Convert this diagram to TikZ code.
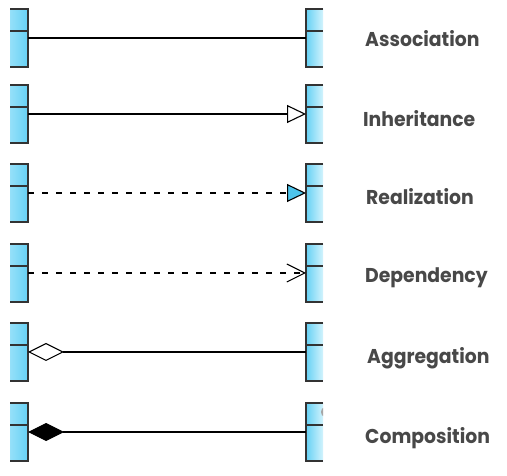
\documentclass[tikz,border=0pt]{standalone}
\usepackage{fontspec}
\setmainfont{Poppins}
\usetikzlibrary{arrows.meta}
\definecolor{lboxA}{HTML}{95E0F9}
\definecolor{lboxB}{HTML}{66D1F4}
\definecolor{rboxA}{HTML}{66D1F4}
\definecolor{rboxB}{HTML}{D2F3FD}
\definecolor{edge}{HTML}{333333}
\definecolor{labgray}{HTML}{484848}
\definecolor{tipfill}{HTML}{4DC4EC}
\newcommand{\labtext}[1]{\scalebox{0.94}[1]{#1}}
\begin{document}
\begin{tikzpicture}[x=1pt,y=-1pt,
  lbox/.style={minimum width=18pt, minimum height=58pt, inner sep=0pt, outer sep=0pt, draw=none, left color=lboxA, right color=lboxB},
  rbox/.style={minimum width=17pt, minimum height=58pt, inner sep=0pt, outer sep=0pt, draw=none, left color=rboxA, right color=rboxB},
  border/.style={draw=edge, line width=1.5pt},
  conn/.style={draw=black, line width=1.1pt},
  dashconn/.style={conn, dash pattern=on 6pt off 8pt},
  lab/.style={anchor=base west, inner sep=0pt, text=labgray, font=\fontsize{20}{24}\selectfont\bfseries}]
\useasboundingbox (0,0) rectangle (507,476);
\foreach \i/\t in {1/9,2/85,3/164,4/244,5/323,6/403}{
  \node[lbox] (L\i) at (19,\t+29) {};
  \node[rbox] (R\i) at (314.5,\t+29) {};
  \draw[border] (L\i.north west) -- (L\i.north east) -- (L\i.south east) -- (L\i.south west);
  \draw[border] ([yshift=-22pt]L\i.north west) -- ([yshift=-22pt]L\i.north east);
  \draw[border] (R\i.north east) -- (R\i.north west) -- (R\i.south west) -- (R\i.south east);
  \draw[border] ([yshift=-22pt]R\i.north west) -- ([yshift=-22pt]R\i.north east);
}
\begin{scope}
  \clip (R6.north west) rectangle (R6.south east);
  \fill[gray!70] (324,412) ellipse (3pt and 4.5pt);
\end{scope}
\draw[conn] (L1.east) -- (R1.west);
\draw[conn, -{Triangle[open, length=19pt, width=18pt]}] (L2.east) -- (R2.west);
\draw[dashconn, -{Triangle[fill=tipfill, length=19pt, width=18pt]}] (L3.east) -- (R3.west);
\draw[dashconn, -{Straight Barb[length=18pt, width=18pt]}] (L4.east) -- (R4.west);
\draw[conn, {Diamond[open, length=36pt, width=18pt]}-] (L5.east) -- (R5.west);
\draw[conn, {Diamond[length=36pt, width=18pt]}-] (L6.east) -- (R6.west);
\node[lab] (T1) at (365,47) {\labtext{Association}};
\node[lab] (T2) at (363,127) {\labtext{Inheritance}};
\node[lab] (T3) at (366,205) {\labtext{Realization}};
\node[lab] (T4) at (365,283) {\labtext{Dependency}};
\node[lab] (T5) at (367,363) {\labtext{Aggregation}};
\node[lab] (T6) at (365,443) {\labtext{Composition}};
\end{tikzpicture}
\end{document}
